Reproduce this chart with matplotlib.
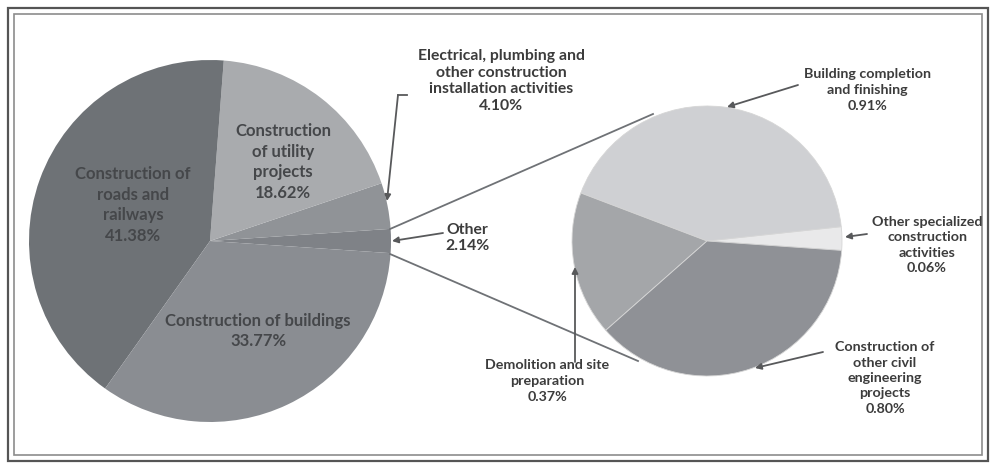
import matplotlib
matplotlib.use("Agg")
import matplotlib.pyplot as plt
from matplotlib.patches import Rectangle

# Main pie data (order: counterclockwise from the right)
main_labels = ["Other", "Electrical, plumbing and\nother construction\ninstallation activities",
               "Construction\nof utility\nprojects", "Construction of\nroads and\nrailways",
               "Construction of buildings"]
main_values = [2.14, 4.10, 18.62, 41.38, 33.77]
main_colors = ["#7f8287", "#909397", "#a9abae", "#6e7276", "#8a8d92"]

# Secondary pie data (breakdown of "Other")
sub_labels = ["Other specialized\nconstruction\nactivities", "Building completion\nand finishing",
              "Demolition and site\npreparation", "Construction of\nother civil\nengineering\nprojects"]
sub_values = [0.06, 0.91, 0.37, 0.80]
sub_colors = ["#e9e9ea", "#cfd0d3", "#a4a6a9", "#8f9196"]

W, H = 990, 463
fig = plt.figure(figsize=(W / 100, H / 100), dpi=100)
ax = fig.add_axes([0, 0, 1, 1])

def Y(y):
    return H - y

main_c = (210, Y(241))
main_r = 181
sub_c = (707, Y(241))
sub_r = 135

start_main = -360 * main_values[0] / sum(main_values) / 2
ax.pie(main_values, colors=main_colors, startangle=start_main, counterclock=True,
       center=main_c, radius=main_r, wedgeprops=dict(linewidth=0))
ax.pie(sub_values, colors=sub_colors, startangle=-4, counterclock=True,
       center=sub_c, radius=sub_r, wedgeprops=dict(linewidth=0.6, edgecolor="#d6d6d6"))

# connector lines
lc = "#6f7276"
ax.plot([390, 653], [Y(229), Y(114)], color=lc, lw=1.3)
ax.plot([390, 638], [Y(254), Y(361)], color=lc, lw=1.3)

tc = "#3c3c3c"
mc = "#45474a"
fam = ["Lato", "DejaVu Sans"]
bigfs = 12
smfs = 11.3
sfs = 10.3

# Main pie labels
ax.text(133, Y(205), main_labels[3] + "\n%.2f%%" % main_values[3], ha="center", va="center",
        fontsize=bigfs, fontweight="bold", color=mc, family=fam, linespacing=1.36)
ax.text(283, Y(162), main_labels[2] + "\n%.2f%%" % main_values[2], ha="center", va="center",
        fontsize=bigfs, fontweight="bold", color=mc, family=fam, linespacing=1.36)
ax.text(258, Y(331), main_labels[4] + "\n%.2f%%" % main_values[4], ha="center", va="center",
        fontsize=bigfs, fontweight="bold", color=mc, family=fam, linespacing=1.36)
ax.text(501, Y(81), main_labels[1] + "\n%.2f%%" % main_values[1], ha="center", va="center",
        fontsize=smfs, fontweight="bold", color=tc, family=fam, linespacing=1.26)
ax.text(467, Y(238), main_labels[0] + "\n%.2f%%" % main_values[0], ha="center", va="center",
        fontsize=smfs, fontweight="bold", color=tc, family=fam, linespacing=1.26)

# Secondary labels
ax.text(927, Y(245), sub_labels[0] + "\n%.2f%%" % sub_values[0], ha="center", va="center",
        fontsize=sfs, fontweight="bold", color=tc, family=fam, linespacing=1.35)
ax.text(867, Y(90), sub_labels[1] + "\n%.2f%%" % sub_values[1], ha="center", va="center",
        fontsize=sfs, fontweight="bold", color=tc, family=fam, linespacing=1.38)
ax.text(547, Y(381), sub_labels[2] + "\n%.2f%%" % sub_values[2], ha="center", va="center",
        fontsize=sfs, fontweight="bold", color=tc, family=fam, linespacing=1.38)
ax.text(885, Y(378), sub_labels[3] + "\n%.2f%%" % sub_values[3], ha="center", va="center",
        fontsize=sfs, fontweight="bold", color=tc, family=fam, linespacing=1.33)

# Arrows
ac = "#58595b"
ap = dict(arrowstyle="-|>", color=ac, lw=1.3, mutation_scale=9, shrinkA=0, shrinkB=0)
ax.plot([407, 398], [Y(95), Y(95)], color=ac, lw=1.3)
ax.annotate("", xy=(387, Y(201)), xytext=(398, Y(95)), arrowprops=ap)
ax.annotate("", xy=(392, Y(241)), xytext=(443, Y(233)), arrowprops=ap)
ax.annotate("", xy=(727, Y(107)), xytext=(798, Y(85)), arrowprops=ap)
ax.annotate("", xy=(845, Y(237)), xytext=(867, Y(234)), arrowprops=ap)
ax.annotate("", xy=(755, Y(368)), xytext=(823, Y(352)), arrowprops=ap)
ax.annotate("", xy=(575, Y(267)), xytext=(575, Y(362)), arrowprops=ap)

# Double frame
ax.add_patch(Rectangle((8, Y(461)), 980, 453, fill=False, edgecolor="#555555", lw=1.6))
ax.add_patch(Rectangle((14, Y(455)), 968, 441, fill=False, edgecolor="#8c8c8c", lw=1.2))

ax.set_xlim(0, W)
ax.set_ylim(0, H)
ax.set_aspect("equal")
ax.axis("off")

fig.savefig("out.png", dpi=100, facecolor="white")
